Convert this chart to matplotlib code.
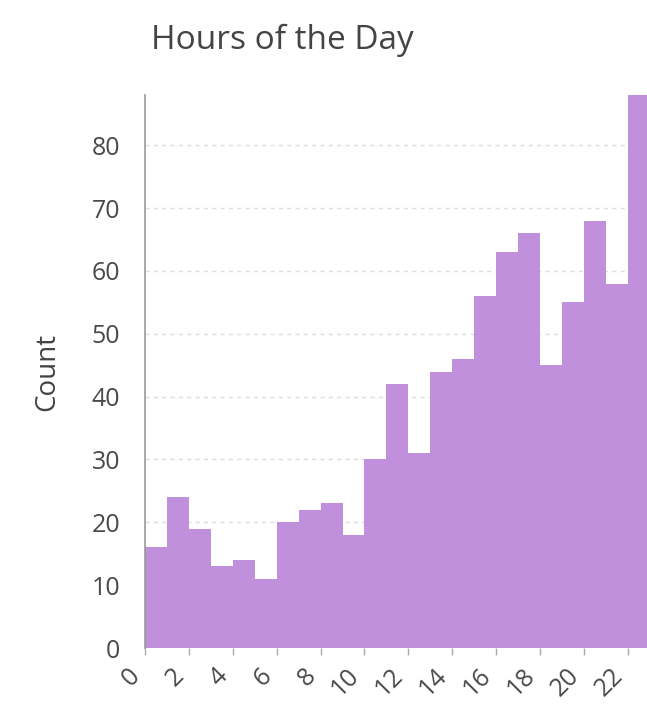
import matplotlib
matplotlib.use('Agg')
import matplotlib.pyplot as plt
import matplotlib.transforms as mtransforms
import numpy as np

plt.rcParams['font.family'] = ['Open Sans', 'DejaVu Sans']

# histogram of hours, one bin per hour
bin_edges = list(range(0, 24))
counts = [16, 24, 19, 13, 14, 11, 20, 22, 23, 18, 30, 42,
          31, 44, 46, 56, 63, 66, 45, 55, 68, 58, 88]
x_ticks = list(range(0, 24, 2))
y_ticks = [0, 10, 20, 30, 40, 50, 60, 70, 80]

fig = plt.figure(figsize=(6.47, 7.10), dpi=100)
ax = fig.add_axes([0.2241, 0.0873, 0.7759, 0.7789])

ax.bar(bin_edges[:-1], counts, width=1.0, align='edge',
       color='#c090dc', edgecolor='none', zorder=2)

ax.set_xlim(0, 22.87)
ax.set_ylim(0, 88)

ax.set_yticks(y_ticks)
ax.set_xticks(x_ticks)
ax.set_xticklabels([str(t) for t in x_ticks], rotation=45, ha='right')
# nudge the rotated labels a little to the left
shift = mtransforms.ScaledTranslation(-6 / 72, 0, fig.dpi_scale_trans)
for lbl in ax.get_xticklabels():
    lbl.set_transform(lbl.get_transform() + shift)

ax.grid(axis='y', color='#dddddd', linestyle=(0, (3, 3)), linewidth=1, zorder=1)
ax.set_axisbelow(True)

for s in ['top', 'right', 'bottom']:
    ax.spines[s].set_visible(False)
ax.spines['left'].set_color('#999999')
ax.spines['left'].set_linewidth(1.2)

ax.tick_params(axis='y', length=0, pad=18, labelsize=18, labelcolor='#4a4a4a')
ax.tick_params(axis='x', length=5, width=1, color='#aaaaaa', pad=6,
               labelsize=18, labelcolor='#4a4a4a')

ax.set_ylabel('Count', fontsize=20, color='#444444', labelpad=22)
fig.text(0.436, 0.943, 'Hours of the Day', fontsize=24, color='#444444',
         ha='center', va='center')

fig.savefig('out.png', dpi=100)
